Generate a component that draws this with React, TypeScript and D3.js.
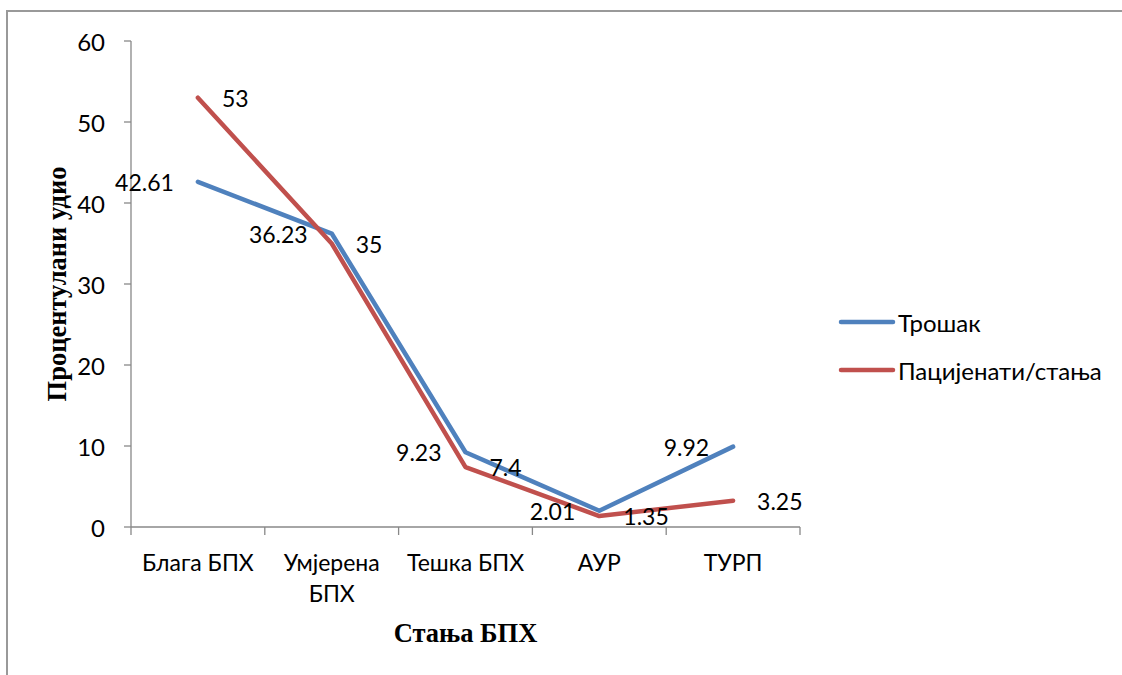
import React from "react";
import * as d3 from "d3";

const categories: string[][] = [["Блага БПХ"], ["Умјерена", "БПХ"], ["Тешка БПХ"], ["АУР"], ["ТУРП"]];
const trosak = [42.61, 36.23, 9.23, 2.01, 9.92];
const pacijenti = [53, 35, 7.4, 1.35, 3.25];
const yTicks = [0, 10, 20, 30, 40, 50, 60];
const seriesNames = ["Трошак", "Пацијенати/стања"];
const colors = ["#4F81BD", "#C0504D"];

const W = 1122, H = 675;
const X0 = 131, X1 = 800, Y0 = 527, Y1 = 41;
const FONT = "Lato, 'Open Sans', sans-serif";
const SERIF = "'Liberation Serif', 'Times New Roman', serif";

export default function App() {
  const x = d3.scaleBand<number>().domain(d3.range(categories.length)).range([X0, X1]).padding(0);
  const y = d3.scaleLinear().domain([0, 60]).range([Y0, Y1]);
  const cx = (i: number) => (x(i) as number) + x.bandwidth() / 2;
  const line = d3.line<number>().x((_, i) => cx(i)).y((d) => y(d));
  const series = [trosak, pacijenti];
  const ticksX = d3.range(categories.length + 1).map((i) => X0 + i * x.bandwidth());

  return (
    <svg width={W} height={H} style={{ position: "absolute", left: 0, top: 0, background: "#fff" }}>
      <rect x={0} y={0} width={W} height={H} fill="#fff" />
      <path d={`M7,${H} V11 H${W}`} fill="none" stroke="#999" strokeWidth={2} />
      {/* y axis */}
      <line x1={X0} x2={X0} y1={Y1} y2={Y0} stroke="#888" strokeWidth={1.3} />
      {yTicks.map((t) => (
        <g key={t}>
          <line x1={X0 - 7} x2={X0} y1={y(t)} y2={y(t)} stroke="#888" strokeWidth={1.3} />
          <text x={105} y={y(t)} textAnchor="end" dominantBaseline="central" fontFamily={FONT} fontSize={24} fill="#000">{t}</text>
        </g>
      ))}
      {/* x axis */}
      <line x1={X0} x2={X1} y1={Y0} y2={Y0} stroke="#888" strokeWidth={1.3} />
      {ticksX.map((tx, i) => (
        <line key={i} x1={tx} x2={tx} y1={Y0} y2={Y0 + 8} stroke="#888" strokeWidth={1.3} />
      ))}
      {categories.map((lines, i) => (
        <text key={i} x={cx(i)} textAnchor="middle" fontFamily={FONT} fontSize={23} fill="#000">
          {lines.map((l, j) => (
            <tspan key={j} x={cx(i)} y={562 + j * 31} dominantBaseline="central">{l}</tspan>
          ))}
        </text>
      ))}
      {/* axis titles */}
      <text x={(X0 + X1) / 2} y={633} textAnchor="middle" dominantBaseline="central" fontFamily={SERIF} fontWeight="bold" fontSize={26.5} fill="#000">Стања БПХ</text>
      <text transform={`translate(57,${(Y0 + Y1) / 2}) rotate(-90)`} textAnchor="middle" dominantBaseline="central" fontFamily={SERIF} fontWeight="bold" fontSize={26.5} fill="#000">Процентулани удио</text>
      {/* lines */}
      {series.map((s, k) => (
        <path key={k} d={line(s) || ""} fill="none" stroke={colors[k]} strokeWidth={4.5} strokeLinejoin="round" strokeLinecap="round" />
      ))}
      {/* data labels */}
      {trosak.map((v, i) => (
        <text key={"t" + i} x={cx(i) - 24} y={y(v)} textAnchor="end" dominantBaseline="central" fontFamily={FONT} fontSize={23} fill="#000">{v}</text>
      ))}
      {pacijenti.map((v, i) => (
        <text key={"p" + i} x={cx(i) + 24} y={y(v)} textAnchor="start" dominantBaseline="central" fontFamily={FONT} fontSize={23} fill="#000">{v}</text>
      ))}
      {/* legend */}
      {seriesNames.map((n, k) => (
        <g key={n}>
          <line x1={841} x2={893} y1={322 + k * 48} y2={322 + k * 48} stroke={colors[k]} strokeWidth={4.5} strokeLinecap="round" />
          <text x={898} y={322 + k * 48} dominantBaseline="central" fontFamily={FONT} fontSize={24} fill="#000">{n}</text>
        </g>
      ))}
    </svg>
  );
}
